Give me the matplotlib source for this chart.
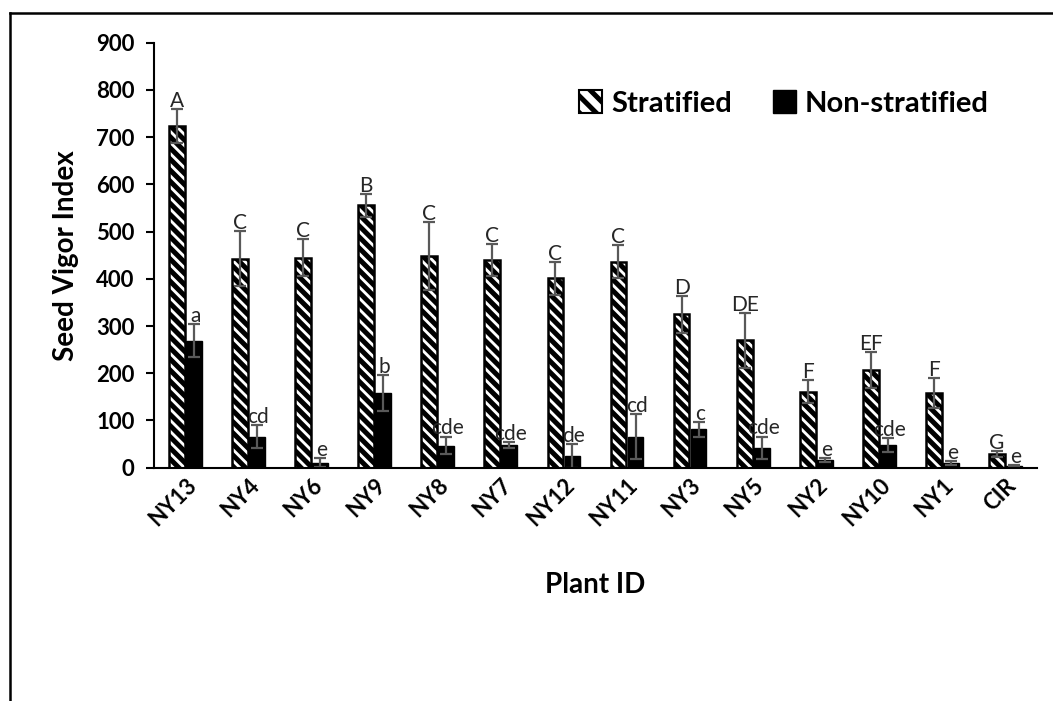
import matplotlib
matplotlib.use("Agg")
import matplotlib.pyplot as plt
import numpy as np
from matplotlib.patches import Patch
from matplotlib.lines import Line2D

plants = ["NY13", "NY4", "NY6", "NY9", "NY8", "NY7", "NY12", "NY11",
          "NY3", "NY5", "NY2", "NY10", "NY1", "CIR"]
stratified = [724, 443, 445, 556, 448, 439, 401, 436, 325, 270, 161, 207, 158, 29]
stratified_err = [36, 58, 39, 24, 72, 34, 35, 35, 39, 58, 24, 38, 32, 7]
non_stratified = [269, 66, 11, 158, 47, 48, 25, 66, 81, 42, 16, 48, 10, 4]
non_stratified_err = [35, 24, 10, 38, 19, 7, 25, 48, 15, 24, 4, 14, 5, 1]
strat_letters = ["A", "C", "C", "B", "C", "C", "C", "C", "D", "DE", "F", "EF", "F", "G"]
non_letters = ["a", "cd", "e", "b", "cde", "cde", "de", "cd", "c", "cde", "e", "cde", "e", "e"]

plt.rcParams["font.family"] = ["Lato", "DejaVu Sans"]
plt.rcParams["hatch.linewidth"] = 3.6

fig = plt.figure(figsize=(10.53, 7.01), dpi=100)
ax = fig.add_axes([0.1462, 0.3328, 0.8386, 0.6062])

x = np.arange(len(plants))
w = 0.25
off = 0.135
err_kw = dict(ecolor="#595959", elinewidth=1.6, capsize=4.5, capthick=1.6)

ax.bar(x - off, stratified, w, color="white", edgecolor="black", hatch="\\\\\\",
       linewidth=1.8, yerr=stratified_err, error_kw=err_kw, zorder=2)
ax.bar(x + off, non_stratified, w, color="black", edgecolor="black",
       linewidth=1.0, yerr=non_stratified_err, error_kw=err_kw, zorder=2)

for i in range(len(plants)):
    ax.annotate(strat_letters[i], (x[i] - off, stratified[i] + stratified_err[i]),
                xytext=(0, 1.5), textcoords="offset points", ha="center",
                va="baseline", fontsize=15, color="#262626")
    ax.annotate(non_letters[i], (x[i] + off, non_stratified[i] + non_stratified_err[i]),
                xytext=(1, 1.5), textcoords="offset points", ha="center",
                va="baseline", fontsize=15, color="#262626")

ax.set_xlim(-0.5, len(plants) - 0.5)
ax.set_ylim(0, 900)
ax.set_yticks(range(0, 901, 100))
ax.set_xticks(x)
ax.set_xticklabels(plants, rotation=45, ha="right", rotation_mode="anchor",
                   fontsize=16, fontweight="bold")
for lab in ax.get_yticklabels():
    lab.set_fontsize(16)
    lab.set_fontweight("bold")
ax.tick_params(axis="y", direction="out", length=6, width=1.5, pad=8)
ax.tick_params(axis="x", length=0, pad=5)
for s in ["top", "right"]:
    ax.spines[s].set_visible(False)
ax.spines["left"].set_linewidth(1.5)
ax.spines["bottom"].set_linewidth(1.5)

ax.set_xlabel("Plant ID", fontsize=20, fontweight="bold", labelpad=30)
ax.set_ylabel("Seed Vigor Index", fontsize=20, fontweight="bold", labelpad=12)

handles = [Patch(facecolor="white", edgecolor="black", hatch="\\\\", linewidth=1.5),
           Patch(facecolor="black", edgecolor="black")]
ax.legend(handles, ["Stratified", "Non-stratified"], loc="upper right",
          bbox_to_anchor=(0.975, 0.95), ncol=2, frameon=False, handlelength=0.8,
          handleheight=0.8, handletextpad=0.3, columnspacing=1.4,
          prop={"weight": "bold", "size": 21})

# outer frame: only top and left edges show in the crop
fig.add_artist(Line2D([0.0095, 1.0], [0.982, 0.982], transform=fig.transFigure,
                      color="black", linewidth=1.8))
fig.add_artist(Line2D([0.0095, 0.0095], [0.0, 0.982], transform=fig.transFigure,
                      color="black", linewidth=1.8))

fig.savefig("out.png", dpi=100)
